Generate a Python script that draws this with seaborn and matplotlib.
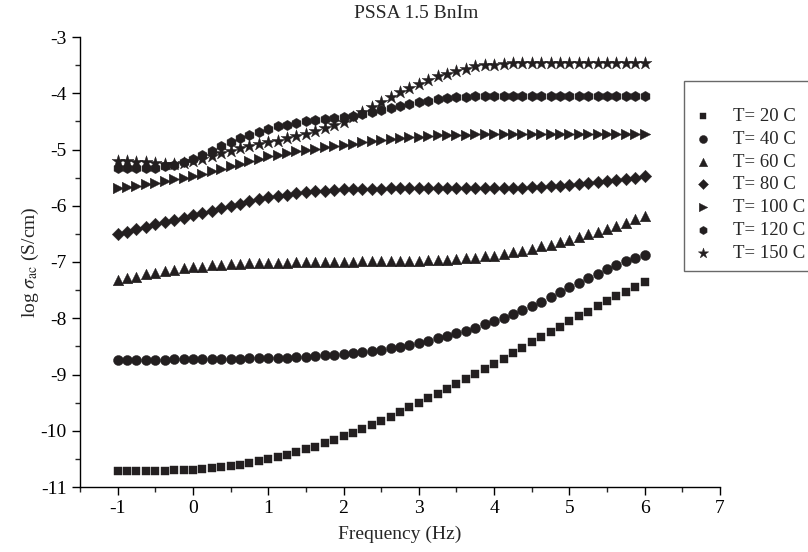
import matplotlib
matplotlib.use("Agg")
import matplotlib.pyplot as plt
import numpy as np
import pandas as pd
import seaborn as sns

# frequency grid, log10(f / Hz)
freq = [-1.0, -0.875, -0.75, -0.625, -0.5, -0.375, -0.25, -0.125,
        0.0, 0.125, 0.25, 0.375, 0.5, 0.625, 0.75, 0.875,
        1.0, 1.125, 1.25, 1.375, 1.5, 1.625, 1.75, 1.875,
        2.0, 2.125, 2.25, 2.375, 2.5, 2.625, 2.75, 2.875,
        3.0, 3.125, 3.25, 3.375, 3.5, 3.625, 3.75, 3.875,
        4.0, 4.125, 4.25, 4.375, 4.5, 4.625, 4.75, 4.875,
        5.0, 5.125, 5.25, 5.375, 5.5, 5.625, 5.75, 5.875, 6.0]

t20 = [-10.72, -10.72, -10.72, -10.71, -10.71, -10.71, -10.70, -10.70,
       -10.69, -10.68, -10.66, -10.64, -10.62, -10.60, -10.57, -10.54,
       -10.51, -10.47, -10.43, -10.38, -10.33, -10.28, -10.22, -10.16,
       -10.10, -10.04, -9.97, -9.90, -9.83, -9.75, -9.67, -9.58,
       -9.50, -9.42, -9.34, -9.25, -9.17, -9.08, -8.99, -8.90,
       -8.81, -8.72, -8.62, -8.53, -8.43, -8.34, -8.24, -8.15,
       -8.05, -7.96, -7.88, -7.79, -7.70, -7.61, -7.53, -7.44, -7.35]

t40 = [-8.74, -8.74, -8.74, -8.74, -8.74, -8.74, -8.73, -8.73,
       -8.73, -8.73, -8.72, -8.72, -8.72, -8.72, -8.71, -8.71,
       -8.71, -8.70, -8.70, -8.69, -8.68, -8.67, -8.66, -8.65,
       -8.63, -8.62, -8.60, -8.58, -8.56, -8.53, -8.51, -8.48,
       -8.44, -8.40, -8.36, -8.32, -8.27, -8.22, -8.17, -8.11,
       -8.05, -7.99, -7.93, -7.86, -7.79, -7.71, -7.62, -7.54,
       -7.45, -7.37, -7.29, -7.21, -7.13, -7.06, -6.99, -6.93, -6.87]

t60 = [-7.32, -7.29, -7.26, -7.22, -7.19, -7.16, -7.14, -7.11,
       -7.09, -7.08, -7.06, -7.05, -7.04, -7.03, -7.02, -7.02,
       -7.01, -7.01, -7.01, -7.00, -7.00, -7.00, -7.00, -7.00,
       -7.00, -7.00, -6.99, -6.99, -6.99, -6.99, -6.98, -6.98,
       -6.98, -6.97, -6.96, -6.96, -6.95, -6.93, -6.92, -6.90,
       -6.89, -6.86, -6.83, -6.80, -6.76, -6.72, -6.69, -6.64,
       -6.60, -6.55, -6.51, -6.46, -6.41, -6.36, -6.30, -6.24, -6.18]

t80 = [-6.50, -6.46, -6.42, -6.37, -6.33, -6.29, -6.25, -6.21,
       -6.17, -6.13, -6.09, -6.04, -6.00, -5.96, -5.92, -5.88,
       -5.85, -5.82, -5.80, -5.77, -5.75, -5.74, -5.73, -5.72,
       -5.71, -5.71, -5.70, -5.70, -5.70, -5.69, -5.69, -5.69,
       -5.69, -5.69, -5.69, -5.69, -5.69, -5.69, -5.69, -5.69,
       -5.69, -5.69, -5.69, -5.68, -5.67, -5.66, -5.65, -5.64,
       -5.63, -5.61, -5.59, -5.58, -5.56, -5.54, -5.52, -5.50, -5.47]

t100 = [-5.68, -5.66, -5.64, -5.61, -5.59, -5.56, -5.53, -5.50,
        -5.47, -5.43, -5.38, -5.34, -5.29, -5.25, -5.20, -5.16,
        -5.12, -5.09, -5.06, -5.03, -5.01, -4.99, -4.96, -4.94,
        -4.92, -4.90, -4.87, -4.85, -4.83, -4.81, -4.80, -4.78,
        -4.77, -4.76, -4.75, -4.74, -4.74, -4.74, -4.73, -4.73,
        -4.73, -4.72, -4.72, -4.72, -4.72, -4.72, -4.72, -4.72,
        -4.72, -4.72, -4.72, -4.72, -4.72, -4.72, -4.72, -4.72, -4.72]

t120 = [-5.33, -5.33, -5.33, -5.33, -5.32, -5.30, -5.27, -5.22,
        -5.16, -5.09, -5.02, -4.94, -4.87, -4.80, -4.74, -4.68,
        -4.63, -4.59, -4.56, -4.53, -4.50, -4.48, -4.46, -4.44,
        -4.42, -4.40, -4.37, -4.34, -4.30, -4.26, -4.23, -4.19,
        -4.16, -4.13, -4.10, -4.08, -4.07, -4.06, -4.05, -4.05,
        -4.04, -4.04, -4.04, -4.04, -4.04, -4.04, -4.04, -4.04,
        -4.04, -4.04, -4.04, -4.04, -4.04, -4.04, -4.04, -4.04, -4.04]

t150 = [-5.20, -5.21, -5.22, -5.23, -5.24, -5.25, -5.25, -5.24,
        -5.21, -5.17, -5.12, -5.07, -5.02, -4.98, -4.94, -4.91,
        -4.87, -4.84, -4.80, -4.76, -4.72, -4.67, -4.62, -4.57,
        -4.51, -4.43, -4.34, -4.24, -4.15, -4.06, -3.98, -3.90,
        -3.83, -3.76, -3.70, -3.65, -3.60, -3.56, -3.52, -3.50,
        -3.49, -3.48, -3.47, -3.47, -3.47, -3.47, -3.47, -3.47,
        -3.47, -3.47, -3.47, -3.47, -3.47, -3.47, -3.47, -3.47, -3.47]

labels = ["T= 20 C", "T= 40 C", "T= 60 C", "T= 80 C", "T= 100 C", "T= 120 C", "T= 150 C"]
series = [t20, t40, t60, t80, t100, t120, t150]
markers = {"T= 20 C": "s", "T= 40 C": "o", "T= 60 C": "^", "T= 80 C": "D",
           "T= 100 C": ">", "T= 120 C": "h", "T= 150 C": "*"}
sizes = {"T= 20 C": 38, "T= 40 C": 52, "T= 60 C": 58, "T= 80 C": 40,
         "T= 100 C": 58, "T= 120 C": 55, "T= 150 C": 95}

df = pd.concat([pd.DataFrame({"freq": freq, "sigma": s, "T": lab})
                for lab, s in zip(labels, series)], ignore_index=True)

sns.set_style("ticks")
plt.rcParams["font.family"] = ["Liberation Serif", "DejaVu Serif"]
plt.rcParams["mathtext.fontset"] = "stix"
plt.rcParams["axes.unicode_minus"] = False
plt.rcParams["axes.linewidth"] = 1.0

fig = plt.figure(figsize=(8.08, 5.52), dpi=100)
ax = fig.add_axes([80 / 808, 1 - 487 / 552, 640 / 808, 450 / 552])

ink = "#231f20"
for lab in labels:
    sub = df[df["T"] == lab]
    sns.scatterplot(data=sub, x="freq", y="sigma", marker=markers[lab], s=sizes[lab],
                    color=ink, edgecolor=ink, linewidth=0.3, ax=ax, label=lab)

ax.set_xlim(-1.5, 7)
ax.set_ylim(-11, -3)
ax.set_xticks(range(-1, 8))
ax.set_xticks(np.arange(-1.5, 7.01, 0.5), minor=True)
ax.set_yticks(range(-11, -2))
ax.set_yticks(np.arange(-11, -2.99, 0.5), minor=True)
ax.tick_params(which="major", direction="out", length=6, width=1.0, labelsize=14, colors="black")
ax.tick_params(which="minor", direction="out", length=3.5, width=1.0)
sns.despine(ax=ax)
for sp in ("left", "bottom"):
    ax.spines[sp].set_color("black")

ax.set_xlabel("Frequency (Hz)", fontsize=14, labelpad=6)
ax.set_ylabel(r"log $\sigma_{\rm ac}$ (S/cm)", fontsize=14, labelpad=0)
ax.set_title("PSSA 1.5 BnIm", fontsize=14, x=0.525, pad=14)

leg = ax.legend(loc="upper left", bbox_to_anchor=(684 / 808, 1 - 81 / 552),
                bbox_transform=fig.transFigure, frameon=True, fancybox=False,
                edgecolor="#444444", fontsize=13.5, title=" ", title_fontsize=9,
                labelspacing=0.3, handletextpad=1.1, borderpad=0.5,
                handlelength=1.0, borderaxespad=0, markerscale=0.8)
leg.get_frame().set_linewidth(1.0)

fig.savefig("out.png", dpi=100)
